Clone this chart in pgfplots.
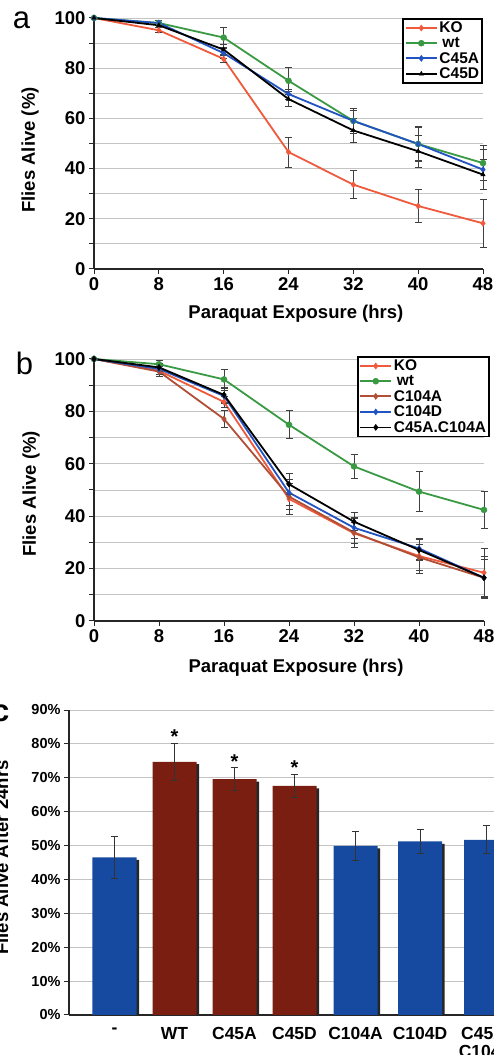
\documentclass[border=0pt]{standalone}
\usepackage{pgfplots}
\pgfplotsset{compat=1.18}
\usepackage{fontspec}
\setmainfont{Liberation Sans}

\definecolor{ko}{HTML}{F05A3C}
\definecolor{wt}{HTML}{3A9A44}
\definecolor{cblue}{HTML}{2153C2}
\definecolor{cbrown}{HTML}{B04E36}
\definecolor{barblue}{HTML}{154AA0}
\definecolor{barred}{HTML}{7B1E12}
\definecolor{gridc}{HTML}{C4C4C4}

\newcommand{\bigbf}{\fontsize{18.5}{20}\selectfont\bfseries}

\pgfplotsset{
  common/.style={
    scale only axis, anchor=south west,
    axis lines=left,
    axis line style={-, line width=1.4pt, black!85},
    tick align=outside, major tick length=5pt, minor tick length=5pt,
    tick style={line width=1pt, black!85},
    ymajorgrids, yminorgrids,
    major grid style={gridc, line width=0.9pt},
    minor grid style={gridc, line width=0.9pt},
    /pgf/number format/assume math mode=true,
    label style={font=\bigbf},
  },
  survival/.style={
    common, clip=false,
    xmin=0, xmax=48, ymin=0, ymax=100,
    xtick={0,8,...,48}, ytick={0,20,...,100}, minor ytick={10,30,...,90},
    ticklabel style={font=\bigbf},
    legend cell align=left,
    legend image code/.code={
      \draw[mark repeat=2,mark phase=2,##1] plot coordinates {(0cm,0cm) (0.55cm,0cm) (1.1cm,0cm)};},
    error bars/error bar style={line width=0.8pt, black!75},
    error bars/error mark options={rotate=90, mark size=3.5pt, line width=0.8pt, black!75},
  },
  leg/.style={draw=black, line width=1.6pt, fill=white,
    font=\fontsize{15.5}{16}\selectfont\bfseries, inner sep=1.5pt, row sep=0pt,
    nodes={inner sep=1.6pt}},
  series/.style={line width=1.8pt, color=#1, mark options={solid, fill=#1, line width=0.5pt}},
}

\begin{document}
\begin{tikzpicture}

% ---------- panel a ----------
\begin{axis}[survival, at={(94pt,786pt)}, width=389pt, height=251pt,
  xlabel={Paraquat Exposure (hrs)}, ylabel={Flies Alive (\%)},
  xlabel style={at={(axis description cs:0.519,-0.199)}, anchor=base},
  ylabel style={at={(axis description cs:-0.1645,0.474)}, anchor=center},
  legend style={leg, at={(1,1)}, anchor=north east}]
\addplot[series=ko, mark=diamond*, mark size=3pt, error bars/.cd, y dir=both, y explicit]
  coordinates {(0,100) +- (0,0) (8,95.1) +- (0,1) (16,83.7) +- (0,1.5) (24,46.6) +- (0,6)
               (32,33.6) +- (0,5.6) (40,25.1) +- (0,6.5) (48,18.2) +- (0,9.4)};
\addplot[series=wt, mark=*, mark size=3pt, error bars/.cd, y dir=both, y explicit]
  coordinates {(0,100) +- (0,0) (8,98) +- (0,1) (16,92.2) +- (0,4) (24,75) +- (0,5.3)
               (32,59) +- (0,5) (40,49.8) +- (0,7) (48,42.2) +- (0,7)};
\addplot[series=cblue, mark=diamond*, mark size=3pt, error bars/.cd, y dir=both, y explicit]
  coordinates {(0,100) +- (0,0) (8,98) +- (0,1) (16,86) +- (0,2) (24,69.7) +- (0,2)
               (32,59) +- (0,4) (40,49.8) +- (0,6.5) (48,39.6) +- (0,8)};
\addplot[series=black, mark=triangle*, mark size=2.5pt, error bars/.cd, y dir=both, y explicit]
  coordinates {(0,100) +- (0,0) (8,97.1) +- (0,1) (16,87.4) +- (0,2) (24,67.7) +- (0,3)
               (32,55.2) +- (0,4.7) (40,46.9) +- (0,6.5) (48,37.6) +- (0,6)};
\legend{KO,\hspace{3pt}wt,C45A,C45D}
\end{axis}

% ---------- panel b ----------
\begin{axis}[survival, at={(94pt,434pt)}, width=390pt, height=262pt,
  xlabel={Paraquat Exposure (hrs)}, ylabel={Flies Alive (\%)},
  xlabel style={at={(axis description cs:0.518,-0.198)}, anchor=base},
  ylabel style={at={(axis description cs:-0.1615,0.485)}, anchor=center},
  legend style={leg, at={(1.0154,1.0115)}, anchor=north east}]
\addplot[series=ko, mark=diamond*, mark size=3pt, error bars/.cd, y dir=both, y explicit]
  coordinates {(0,100) +- (0,0) (8,95.5) +- (0,1.5) (16,83.6) +- (0,2) (24,46.6) +- (0,6)
               (32,33.5) +- (0,5.5) (40,24.8) +- (0,6.5) (48,18.4) +- (0,9.4)};
\addplot[series=wt, mark=*, mark size=3pt, error bars/.cd, y dir=both, y explicit]
  coordinates {(0,100) +- (0,0) (8,98) +- (0,1.5) (16,92.2) +- (0,4) (24,74.9) +- (0,5.3)
               (32,59) +- (0,4.7) (40,49.4) +- (0,7.6) (48,42.4) +- (0,6.9)};
\addplot[series=cbrown, mark=diamond*, mark size=3pt, error bars/.cd, y dir=both, y explicit]
  coordinates {(0,100) +- (0,0) (8,95.2) +- (0,2) (16,77.1) +- (0,3.4) (24,47.5) +- (0,5)
               (32,33.8) +- (0,4) (40,24.3) +- (0,5) (48,16.5) +- (0,7)};
\addplot[series=cblue, mark=diamond*, mark size=3pt, error bars/.cd, y dir=both, y explicit]
  coordinates {(0,100) +- (0,0) (8,96.2) +- (0,2) (16,85.9) +- (0,3) (24,49) +- (0,5)
               (32,35.6) +- (0,4) (40,27.7) +- (0,4) (48,16.5) +- (0,7)};
\addplot[series=black, mark=diamond*, mark size=3pt, error bars/.cd, y dir=both, y explicit]
  coordinates {(0,100) +- (0,0) (8,96.8) +- (0,1.5) (16,86.3) +- (0,3) (24,52.2) +- (0,4)
               (32,37.9) +- (0,3.5) (40,27.1) +- (0,4) (48,16.5) +- (0,8)};
\legend{KO,\hspace{3pt}wt,C104A,C104D,C45A.C104A}
\end{axis}

% ---------- panel c ----------
\begin{axis}[common, at={(69pt,40pt)}, width=471pt, height=305pt,
  xmin=69, xmax=540, ymin=0, ymax=90,
  xtick={114.5,174.5,234.5,294.5,355.5,420,486},
  xticklabels={-,WT,C45A,C45D,C104A,C104D,{C45A.\\C104A}},
  xticklabel style={align=center, anchor=north, font=\fontsize{17.5}{17.5}\selectfont\bfseries, yshift=-4pt},
  xtick style={draw=none},
  ytick={0,10,...,90}, minor ytick={},
  yticklabel={\pgfmathprintnumber{\tick}\%},
  yticklabel style={font=\fontsize{14.5}{16}\selectfont\bfseries},
  ylabel={Flies Alive After 24hrs},
  ylabel style={at={(axis description cs:-0.1433,0.516)}, anchor=center},
  error bars/error bar style={line width=1pt, black!80},
  error bars/error mark options={rotate=90, mark size=3.5pt, line width=1pt, black!80}]
\addplot[ybar, bar width=44pt, bar shift=2.5pt, fill=black!85, draw=none]
  coordinates {(114.5,45.8) (174.5,74.0) (234.5,68.9) (294.5,66.9) (355.5,49.2) (420,50.5) (486,51.0)};
\addplot[ybar, bar width=44pt, bar shift=0pt, fill=barblue, draw=none,
  error bars/.cd, y dir=both, y explicit]
  coordinates {(114.5,46.5) +- (0,6.2) (355.5,49.9) +- (0,4.2) (420,51.2) +- (0,3.5) (486,51.7) +- (0,4.1)};
\addplot[ybar, bar width=44pt, bar shift=0pt, fill=barred, draw=none,
  error bars/.cd, y dir=both, y explicit]
  coordinates {(174.5,74.7) +- (0,5.5) (234.5,69.6) +- (0,3.4) (294.5,67.6) +- (0,3.5)};
\node[font=\fontsize{20}{20}\selectfont\bfseries, anchor=base] at (axis cs:174.5,80.1) {*};
\node[font=\fontsize{20}{20}\selectfont\bfseries, anchor=base] at (axis cs:234.5,72.7) {*};
\node[font=\fontsize{20}{20}\selectfont\bfseries, anchor=base] at (axis cs:294.5,70.9) {*};
\end{axis}

% panel letters
\node[font=\fontsize{31}{31}\selectfont, anchor=base, inner sep=0pt] at (21.5pt,1026pt) {a};
\node[font=\fontsize{31}{31}\selectfont, anchor=base, inner sep=0pt] at (24.5pt,680pt) {b};
\node[font=\fontsize{31}{31}\selectfont\bfseries, anchor=base west, inner sep=0pt] at (-8pt,333pt) {c};

\pgfresetboundingbox
\path[use as bounding box] (0pt,0pt) rectangle (493pt,1055pt);
\end{tikzpicture}
\end{document}
